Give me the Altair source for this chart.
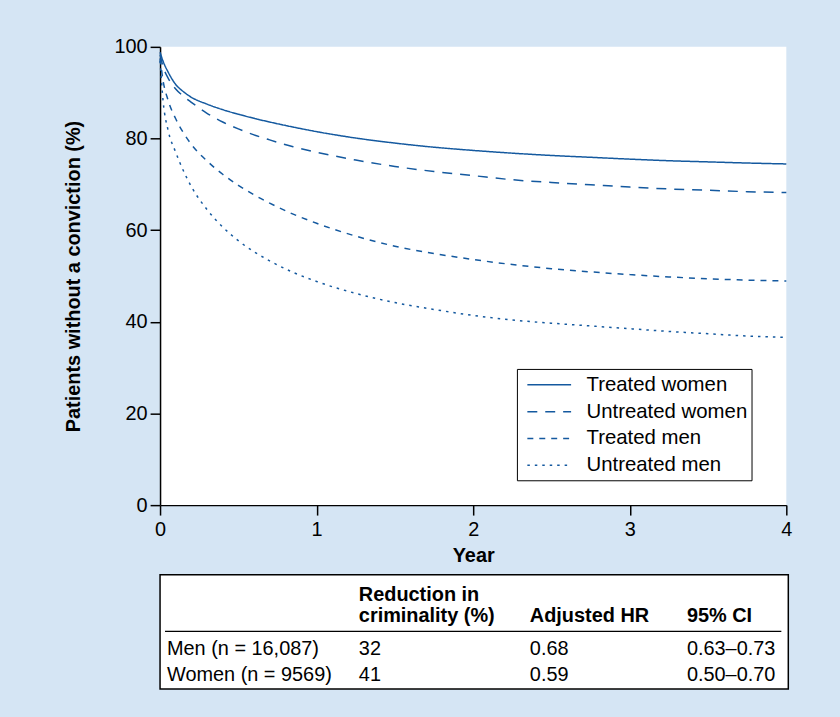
import altair as alt
import pandas as pd

# ---------------- data ----------------
years = [0, 0.02, 0.05, 0.1, 0.15, 0.2, 0.3, 0.4, 0.5, 0.6, 0.7, 0.85, 1.0,
         1.25, 1.5, 1.75, 2.0, 2.25, 2.5, 2.75, 3.0, 3.25, 3.5, 3.75, 4.0]
treated_women = [98.8, 96.8, 94.6, 91.8, 90.2, 89.0, 87.5, 86.3, 85.3, 84.4, 83.6, 82.5, 81.5,
                 80.1, 79.0, 78.1, 77.4, 76.8, 76.3, 75.9, 75.5, 75.15, 74.9, 74.65, 74.45]
untreated_women = [98.3, 95.6, 93.3, 90.8, 89.2, 87.9, 85.5, 83.6, 82.1, 80.8, 79.7, 78.2, 77.0,
                   75.3, 73.9, 72.8, 71.9, 71.0, 70.4, 69.9, 69.4, 69.0, 68.7, 68.4, 68.2]
treated_men = [97.5, 92.5, 88.5, 84.3, 81.2, 78.7, 75.1, 72.2, 69.8, 67.7, 65.9, 63.5, 61.5,
               58.7, 56.5, 54.9, 53.6, 52.5, 51.6, 50.9, 50.3, 49.8, 49.4, 49.1, 48.9]
untreated_men = [97.0, 88.0, 82.0, 77.0, 72.9, 69.5, 64.5, 60.7, 57.7, 55.3, 53.3, 50.8, 48.8,
                 46.2, 44.2, 42.7, 41.4, 40.4, 39.7, 39.1, 38.5, 37.9, 37.4, 36.9, 36.6]
series_names = ["Treated women", "Untreated women", "Treated men", "Untreated men"]

y_ticks = [0, 20, 40, 60, 80, 100]
x_ticks = [0, 1, 2, 3, 4]

row_labels = ["Men (n = 16,087)", "Women (n = 9569)"]
reduction = ["32", "41"]
adjusted_hr = ["0.68", "0.59"]
ci_95 = ["0.63\u20130.73", "0.50\u20130.70"]
header_line1 = ["Reduction in"]
header_line2 = ["criminality (%)", "Adjusted HR", "95% CI"]

# ---------------- styling ----------------
BLUE = "#14599f"
BG = "#d5e5f4"
FONT = "Liberation Sans"
dashes = [[1, 0], [10, 8], [6, 6], [2.5, 5]]

rows = []
for name, vals in zip(series_names, [treated_women, untreated_women, treated_men, untreated_men]):
    for t, v in zip(years, vals):
        rows.append({"series": name, "year": t, "pct": v})
df = pd.DataFrame(rows)

lines = alt.Chart(df).mark_line(
    strokeWidth=1.5, interpolate="monotone", color=BLUE
).encode(
    x=alt.X("year:Q", scale=alt.Scale(domain=[0, 4], nice=False),
            axis=alt.Axis(values=x_ticks, title="Year", format="d", grid=False,
                          labelFlush=False, labelPadding=5, titlePadding=6)),
    y=alt.Y("pct:Q", scale=alt.Scale(domain=[0, 100], nice=False),
            axis=alt.Axis(values=y_ticks, title="Patients without a conviction (%)",
                          grid=False, labelFlush=False, labelPadding=3, titlePadding=31)),
    strokeDash=alt.StrokeDash(
        "series:N",
        scale=alt.Scale(domain=series_names, range=dashes),
        legend=alt.Legend(
            title=None, orient="none", legendX=359, legendY=324,
            fillColor="white", strokeColor="black", padding=4,
            labelFont=FONT, labelFontSize=20.5, labelColor="black", labelLimit=400,
            labelOffset=42, symbolType="M-0.5,0H3.5", symbolSize=484,
            symbolStrokeWidth=1.5, symbolStrokeColor=BLUE, rowPadding=4,
        ),
    ),
).properties(width=630, height=461,
             view=alt.ViewBackground(fill="white", stroke=None))

# ---------------- table ----------------
tdf = pd.DataFrame({"row": row_labels, "red": reduction, "hr": adjusted_hr, "ci": ci_95})
yrow = alt.Y("row:N", scale=alt.Scale(type="point", domain=row_labels, range=[75, 101], padding=0),
             axis=None)


def col_text(field, xpx):
    return alt.Chart(tdf).mark_text(
        align="left", baseline="middle", font=FONT, fontSize=20, color="black"
    ).encode(x=alt.value(xpx), y=yrow, text=f"{field}:N")


def head_text(values, xs, ypx):
    hd = pd.DataFrame({"h": values})
    layers = []
    for i, xpx in enumerate(xs):
        layers.append(alt.Chart(hd.iloc[[i]]).mark_text(
            align="left", baseline="middle", font=FONT, fontSize=20,
            fontWeight="bold", color="black"
        ).encode(x=alt.value(xpx), y=alt.value(ypx), text="h:N"))
    return layers


rule = alt.Chart(pd.DataFrame({"a": [0]})).mark_rule(
    color="black", strokeWidth=1.5
).encode(x=alt.value(5), x2=alt.value(625), y=alt.value(57))

table = alt.layer(
    *head_text(header_line1, [200], 20),
    *head_text(header_line2, [200, 372, 530], 42),
    rule,
    col_text("row", 7),
    col_text("red", 200),
    col_text("hr", 372),
    col_text("ci", 530),
).properties(width=632, height=115,
             view=alt.ViewBackground(fill="white", stroke="black", strokeWidth=1.5))

chart = alt.vconcat(lines, table, spacing=70, bounds="flush").properties(
    background=BG,
    padding={"left": 63, "top": 35, "right": 48, "bottom": 25},
).configure_axis(
    domainColor="black", domainWidth=1.5, tickColor="black", tickWidth=1.5,
    tickSize=10, labelFont=FONT, labelFontSize=20, labelColor="black",
    titleFont=FONT, titleFontSize=20, titleFontWeight="bold", titleColor="black",
).configure_text(font=FONT)

chart.save("out.html", embed_options={"renderer": "svg", "actions": False})
